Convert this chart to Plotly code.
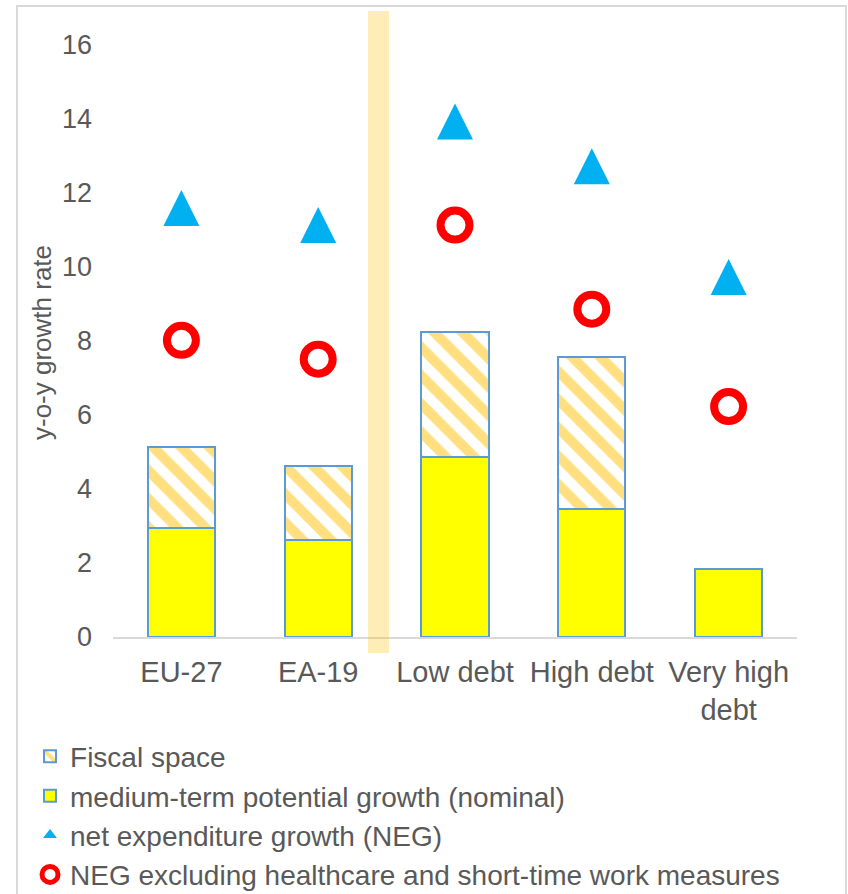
import plotly.graph_objects as go

categories = ["EU-27", "EA-19", "Low debt", "High debt", "Very high<br>debt"]
potential_growth = [2.95, 2.63, 4.87, 3.45, 1.83]
fiscal_space = [2.18, 1.99, 3.36, 4.12, 0.0]
neg = [11.58, 11.12, 13.92, 12.71, 9.72]
neg_excl = [8.01, 7.50, 11.12, 8.85, 6.22]
y_ticks = [0, 2, 4, 6, 8, 10, 12, 14, 16]

TEXT = "#595959"
FONT = "Liberation Sans, Arial, sans-serif"
BORDER = "#5B9BD5"

fig = go.Figure()
fig.add_bar(
    x=categories, y=potential_growth, name="medium-term potential growth (nominal)",
    marker=dict(color="#FFFF00", line=dict(color=BORDER, width=2)),
    width=0.49, legendrank=2,
)
fig.add_bar(
    x=categories, y=fiscal_space, name="Fiscal space",
    marker=dict(color="#FFFFFF",
                pattern=dict(shape="\\", fgcolor="#FFC000", bgcolor="#FFFFFF",
                             size=20, solidity=0.5),
                line=dict(color=BORDER, width=2)),
    width=0.49, legendrank=1,
)
# triangle markers (centered isoceles triangle) – data trace
fig.add_scatter(
    x=categories, y=neg, mode="markers", showlegend=False,
    marker=dict(symbol="arrow-down", angle=180, standoff=18, size=36, color="#00B0F0"),
)
# legend entry for triangles
fig.add_scatter(
    x=[None], y=[None], mode="markers", name="net expenditure growth (NEG)",
    marker=dict(symbol="triangle-up", size=12, color="#00B0F0"), legendrank=3,
)
fig.add_scatter(
    x=categories, y=neg_excl, mode="markers",
    name="NEG excluding healthcare and short-time work measures",
    marker=dict(symbol="circle-open", size=29, color="#FF0000", line=dict(width=8)),
    legendrank=4,
)

fig.update_layout(
    width=848, height=894,
    margin=dict(l=113, r=51, t=11, b=257, autoexpand=False),
    plot_bgcolor="white", paper_bgcolor="white",
    barmode="stack",
    font=dict(family=FONT, color=TEXT),
    legend=dict(x=-0.1213, y=-0.151, xanchor="left", yanchor="top",
                traceorder="normal", font=dict(size=28, color=TEXT),
                bgcolor="rgba(0,0,0,0)", tracegroupgap=0),
    shapes=[
        dict(type="rect", xref="paper", yref="paper",
             x0=0.3728, x1=0.4036, y0=-0.0256, y1=1.0,
             fillcolor="rgba(255,192,0,0.28)", line=dict(width=0), layer="above"),
        dict(type="rect", xref="paper", yref="paper",
             x0=-0.1404, x1=1.0716, y0=-0.45, y1=1.008,
             fillcolor="rgba(0,0,0,0)", line=dict(color="#D9D9D9", width=2), layer="below"),
    ],
    annotations=[
        dict(text="y-o-y growth rate", xref="paper", yref="paper",
             x=-0.1038, y=0.4696, xanchor="center", yanchor="middle",
             textangle=-90, showarrow=False, font=dict(size=26, color=TEXT)),
    ],
)
fig.update_xaxes(
    range=[-0.5, 4.5], showline=True, linecolor="#D9D9D9", linewidth=2,
    showgrid=False, ticks="", tickfont=dict(size=29, color=TEXT), ticklabelstandoff=8,
)
fig.update_yaxes(
    range=[0, 16.9], tickvals=y_ticks, showgrid=False, zeroline=False, showline=False,
    ticks="", tickfont=dict(size=27, color=TEXT), ticklabelstandoff=20,
)

fig.write_html("out.html")
